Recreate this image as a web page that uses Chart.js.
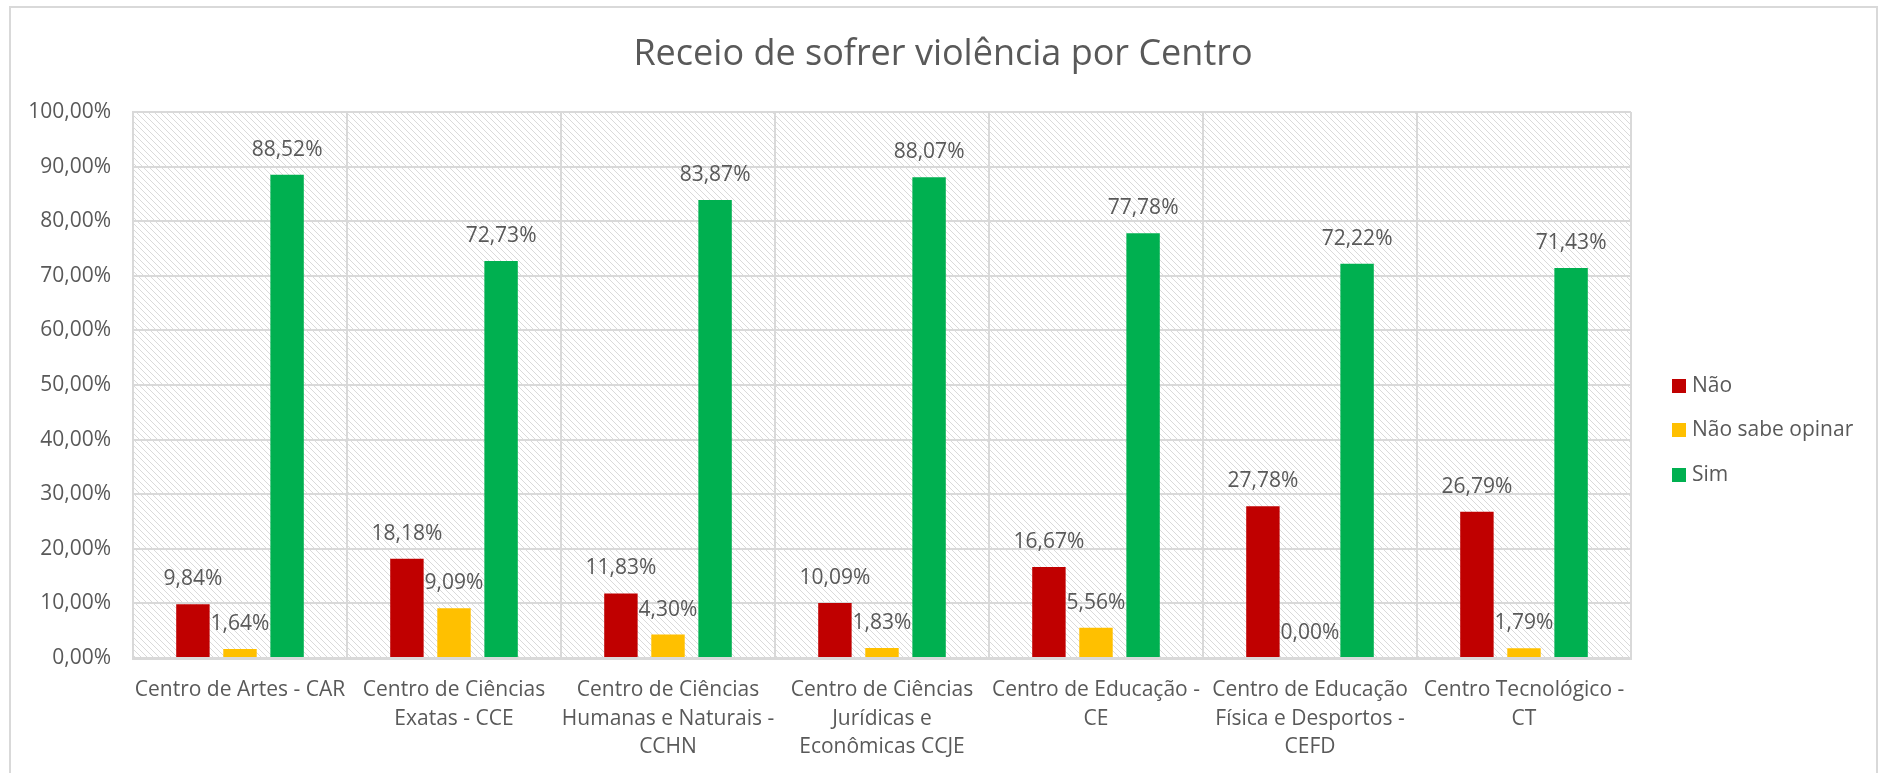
<!DOCTYPE html>
<html>
<head>
<meta charset="utf-8">
<script src="https://cdn.jsdelivr.net/npm/chart.js@4.4.1/dist/chart.umd.min.js"></script>
<style>
  html, body { margin: 0; padding: 0; background: #fff; }
  #wrap { position: relative; width: 1878px; height: 773px; }
</style>
</head>
<body>
<div id="wrap"><canvas id="chart" width="1878" height="773"></canvas></div>
<script>
const centros = [
    "Centro de Artes - CAR",
    ["Centro de Ciências", "Exatas - CCE"],
    ["Centro de Ciências", "Humanas e Naturais -", "CCHN"],
    ["Centro de Ciências", "Jurídicas e", "Econômicas CCJE"],
    ["Centro de Educação -", "CE"],
    ["Centro de Educação", "Física e Desportos -", "CEFD"],
    ["Centro Tecnológico -", "CT"]
];
const seriesNames = ["Não", "Não sabe opinar", "Sim"];
const naoValues = [9.84, 18.18, 11.83, 10.09, 16.67, 27.78, 26.79];
const naoSabeValues = [1.64, 9.09, 4.30, 1.83, 5.56, 0.00, 1.79];
const simValues = [88.52, 72.73, 83.87, 88.07, 77.78, 72.22, 71.43];
const yTicks = [0, 10, 20, 30, 40, 50, 60, 70, 80, 90, 100];
const chartTitle = 'Receio de sofrer violência por Centro';

const textColor = '#595959';
const gridColor = '#d9d9d9';
const fontFamily = "'Open Sans', 'Noto Sans', sans-serif";
const fmt = v => v.toFixed(2).replace('.', ',') + '%';

function hatchPattern(ctx) {
    const tile = document.createElement('canvas');
    tile.width = 6; tile.height = 6;
    const t = tile.getContext('2d');
    t.fillStyle = '#ffffff';
    t.fillRect(0, 0, 6, 6);
    t.strokeStyle = '#dadada';
    t.lineWidth = 1;
    t.beginPath();
    t.moveTo(-1, -1); t.lineTo(7, 7);
    t.moveTo(-1, 5); t.lineTo(1, 7);
    t.moveTo(5, -1); t.lineTo(7, 1);
    t.stroke();
    return ctx.createPattern(tile, 'repeat');
}

const decorPlugin = {
    id: 'decor',
    beforeDraw(chart) {
        const { ctx, chartArea: a } = chart;
        ctx.save();
        ctx.fillStyle = '#fff';
        ctx.fillRect(0, 0, chart.width, chart.height);
        ctx.strokeStyle = gridColor;
        ctx.lineWidth = 2;
        ctx.strokeRect(10, 7, chart.width - 11, chart.height + 20);
        ctx.fillStyle = hatchPattern(ctx);
        ctx.fillRect(a.left, a.top, a.right - a.left, a.bottom - a.top);
        // title
        ctx.fillStyle = textColor;
        ctx.font = `36px ${fontFamily}`;
        ctx.textAlign = 'center';
        ctx.textBaseline = 'middle';
        ctx.fillText(chartTitle, 943, 55);
        ctx.restore();
    },
    afterDatasetsDraw(chart) {
        const { ctx } = chart;
        ctx.save();
        ctx.font = `21px ${fontFamily}`;
        ctx.fillStyle = textColor;
        ctx.textAlign = 'center';
        ctx.textBaseline = 'middle';
        chart.data.datasets.forEach((ds, i) => {
            chart.getDatasetMeta(i).data.forEach((bar, j) => {
                ctx.fillText(fmt(ds.data[j]), bar.x, bar.y - 25);
            });
        });
        // legend
        const legendY = [386, 430, 475];
        chart.data.datasets.forEach((ds, i) => {
            ctx.fillStyle = ds.backgroundColor;
            ctx.fillRect(1672, legendY[i] - 7, 14, 14);
            ctx.fillStyle = textColor;
            ctx.textAlign = 'left';
            ctx.fillText(ds.label, 1692, legendY[i]);
        });
        ctx.restore();
    }
};

new Chart(document.getElementById('chart'), {
    type: 'bar',
    data: {
        labels: centros,
        datasets: [
            { label: seriesNames[0], data: naoValues, backgroundColor: '#c00000' },
            { label: seriesNames[1], data: naoSabeValues, backgroundColor: '#ffc000' },
            { label: seriesNames[2], data: simValues, backgroundColor: '#00b050' }
        ]
    },
    options: {
        responsive: false,
        animation: false,
        layout: { padding: { left: 10, right: 247, top: 112, bottom: 0 } },
        datasets: { bar: { categoryPercentage: 0.66, barPercentage: 0.71 } },
        scales: {
            y: {
                min: 0, max: 100,
                afterBuildTicks: s => { s.ticks = yTicks.map(v => ({ value: v })); },
                afterFit: s => { s.width = 123; },
                ticks: { color: textColor, font: { family: fontFamily, size: 21 }, padding: 22, callback: v => fmt(v) },
                grid: { color: gridColor, lineWidth: 2, drawTicks: false },
                border: { color: gridColor, width: 2 }
            },
            x: {
                afterFit: s => { s.height = 115; },
                ticks: { color: textColor, font: { family: fontFamily, size: 21, lineHeight: 1.35 }, padding: 18, maxRotation: 0, autoSkip: false },
                grid: { color: gridColor, lineWidth: 2, drawTicks: false, offset: true },
                border: { color: gridColor, width: 3 }
            }
        },
        plugins: {
            legend: { display: false },
            tooltip: { enabled: false },
            title: { display: false }
        }
    },
    plugins: [decorPlugin]
});
</script>
</body>
</html>
